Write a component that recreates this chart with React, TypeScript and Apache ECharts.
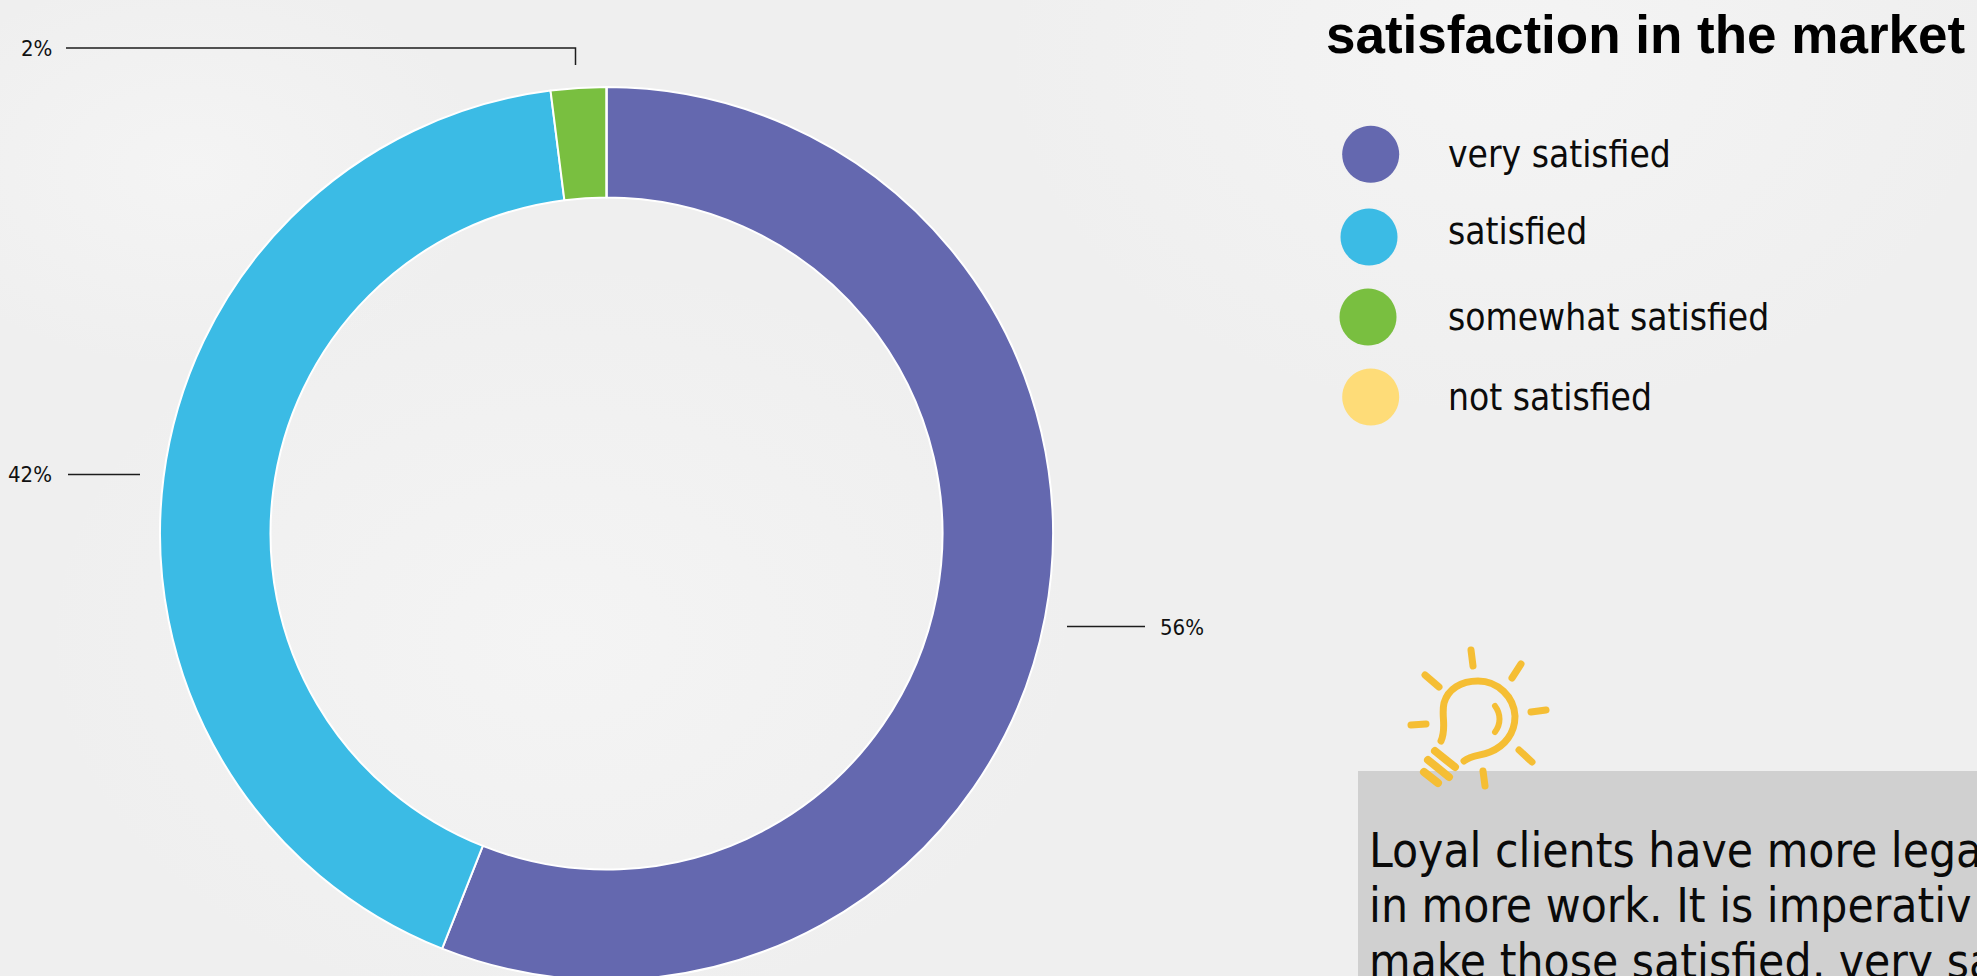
import React, { useEffect, useRef } from "react";
import * as echarts from "echarts";

const categories = ["very satisfied", "satisfied", "somewhat satisfied", "not satisfied"];
const shares = [56, 42, 2, 0];
const palette = ["#6468AF", "#3BBBE5", "#79BF40", "#FEDC78"];
const noteLines = [
  "Loyal clients have more lega",
  "in more work. It is imperativ",
  "make those satisfied, very sa",
];
const titleText = "satisfaction in the market";

const BODY_FONT = "'DejaVu Sans Condensed', 'DejaVu Sans', sans-serif";

const CX = 606.5;
const CY = 533.5;
const LEGEND_TEXT_X = 1448;

// Leader lines and label anchors for the three visible slices.
const leaders: Record<number, { x: number; points: number[][]; y: number }> = {
  0: { x: 1160, y: 627, points: [[1067, 626.5], [1106, 626.5], [1145, 626.5]] },
  1: { x: 8, y: 474, points: [[140, 474.5], [104, 474.5], [68, 474.5]] },
  2: { x: 21, y: 48, points: [[575.5, 65], [575.5, 48], [66, 48]] },
};

// Legend rows sit on slightly uneven positions.
const legendRows = [
  { cx: 1370.7, cy: 154.3, textTop: 135.5 },
  { cx: 1369, cy: 237, textTop: 213 },
  { cx: 1368, cy: 317, textTop: 299 },
  { cx: 1370.7, cy: 397, textTop: 379 },
];

const bulbBody =
  "M1441 741 C1447 728 1441 716 1444 703 C1448 689 1461 681 1478 681 C1498 681 1514 697 1515 716 C1515 733 1505 746 1490 752 C1480 756 1472 755 1464 761";
const bulbGlint = "M1495 706 C1501 714 1501 724 1495 732";
const bulbRays =
  "M1471 650 L1473 666 M1521 664 L1512 678 M1425 675 L1439 687 M1531 712 L1546 710 M1411 725 L1426 724 M1519 750 L1532 762 M1483 771 L1485 786";
const bulbBase = "M1435 751 L1455 767 M1428 760 L1449 777 M1424 772 L1438 783";

echarts.graphic.registerShape("bulbBody", echarts.graphic.extendPath(bulbBody, {}) as any);
echarts.graphic.registerShape("bulbGlint", echarts.graphic.extendPath(bulbGlint, {}) as any);
echarts.graphic.registerShape("bulbRays", echarts.graphic.extendPath(bulbRays, {}) as any);
echarts.graphic.registerShape("bulbBase", echarts.graphic.extendPath(bulbBase, {}) as any);

const bulbStroke = (lineWidth: number) => ({
  fill: "none",
  stroke: "#F5BE34",
  lineWidth,
  lineCap: "round",
  lineJoin: "round",
});

export default function App() {
  const ref = useRef<HTMLDivElement>(null);

  useEffect(() => {
    const chart = echarts.init(ref.current!, null, { renderer: "svg" });
    chart.setOption({
      animation: false,
      backgroundColor: "transparent",
      series: [
        {
          type: "pie",
          center: [CX, CY],
          radius: [336, 446.5],
          startAngle: 90,
          clockwise: true,
          silent: true,
          itemStyle: { borderColor: "#ffffff", borderWidth: 2 },
          label: {
            show: true,
            position: "outside",
            formatter: "{c}%",
            color: "#111111",
            fontFamily: BODY_FONT,
            fontSize: 22,
          },
          labelLine: { show: true, lineStyle: { color: "#1c1c1c", width: 1.5 } },
          labelLayout: (params: any) => {
            const lead = leaders[params.dataIndex];
            if (!lead) return {};
            return {
              x: lead.x,
              y: lead.y,
              align: "left",
              verticalAlign: "middle",
              labelLinePoints: lead.points,
            };
          },
          data: categories.map((name, i) => ({
            name,
            value: shares[i],
            itemStyle: { color: palette[i] },
            ...(shares[i] === 0 ? { label: { show: false }, labelLine: { show: false } } : {}),
          })),
        },
      ],
      graphic: [
        {
          type: "text",
          left: 1326,
          top: 8,
          style: {
            text: titleText,
            fill: "#000000",
            font: "bold 53px 'Liberation Sans', Arial, sans-serif",
          },
        },
        ...categories.flatMap((name, i) => [
          {
            type: "circle",
            shape: { cx: legendRows[i].cx, cy: legendRows[i].cy, r: 28.5 },
            style: { fill: palette[i] },
          },
          {
            type: "text",
            x: LEGEND_TEXT_X,
            y: legendRows[i].textTop,
            style: { text: name, fill: "#0b0b0b", font: `36.8px ${BODY_FONT}` },
          },
        ]),
        {
          type: "rect",
          shape: { x: 1358, y: 771, width: 619, height: 205 },
          style: { fill: "#D0D0D0" },
          z: 1,
        },
        ...noteLines.map((line, i) => ({
          type: "text",
          x: 1369,
          y: 826 + i * 55.5,
          z: 2,
          style: {
            text: line,
            fill: "#0a0a0a",
            font: `47.5px ${BODY_FONT}`,
          },
        })),
        { type: "bulbBody", z: 3, style: bulbStroke(7) },
        { type: "bulbGlint", z: 3, style: bulbStroke(6) },
        { type: "bulbRays", z: 3, style: bulbStroke(7) },
        { type: "bulbBase", z: 3, style: bulbStroke(8) },
      ],
    });
    return () => chart.dispose();
  }, []);

  return (
    <div
      ref={ref}
      style={{
        position: "fixed",
        left: 0,
        top: 0,
        width: 1977,
        height: 976,
        overflow: "hidden",
        background:
          "radial-gradient(ellipse 520px 380px at 560px 640px, #f4f4f4, rgba(244,244,244,0)), radial-gradient(ellipse 300px 200px at 190px 170px, #f4f4f4, rgba(244,244,244,0)), radial-gradient(ellipse 500px 360px at 1500px 60px, #f4f4f4, rgba(244,244,244,0)), #efefef",
      }}
    />
  );
}
